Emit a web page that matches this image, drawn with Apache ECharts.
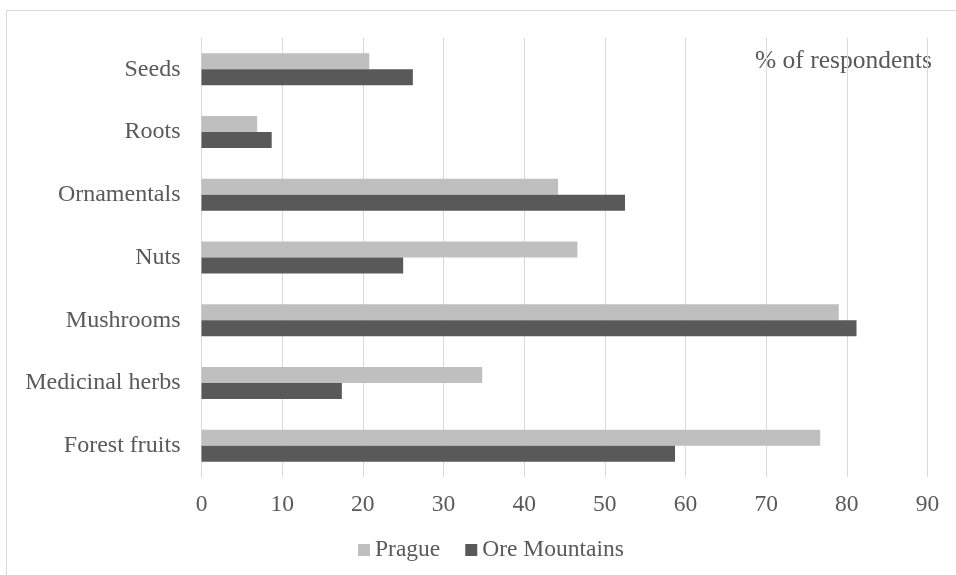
<!DOCTYPE html>
<html>
<head>
<meta charset="utf-8">
<style>
  html, body { margin: 0; padding: 0; background: #ffffff; }
  #chart { width: 956px; height: 575px; }
</style>
<script src="https://cdn.jsdelivr.net/npm/echarts@6/dist/echarts.min.js"></script>
</head>
<body>
<div id="chart"></div>
<script>
// Categories listed from the bottom of the chart upwards
const categories = ['Forest fruits', 'Medicinal herbs', 'Mushrooms', 'Nuts', 'Ornamentals', 'Roots', 'Seeds'];
// Share of respondents collecting each product (%)
const prague = [76.7, 34.8, 79.0, 46.6, 44.2, 6.9, 20.8];
const oreMountains = [58.7, 17.4, 81.2, 25.0, 52.5, 8.7, 26.2];
const xTicks = [0, 10, 20, 30, 40, 50, 60, 70, 80, 90];

const textColor = '#595959';
const fontFamily = '"Liberation Serif", "Times New Roman", serif';

const chart = echarts.init(document.getElementById('chart'), null, { renderer: 'canvas' });

chart.setOption({
  backgroundColor: '#ffffff',
  animation: false,
  textStyle: { fontFamily: fontFamily, color: textColor },
  graphic: [
    {
      type: 'rect',
      left: 4, top: 8,
      shape: { x: 0, y: 0, width: 1000, height: 700 },
      style: { fill: 'none', stroke: '#d9d9d9', lineWidth: 1 },
      silent: true
    },
    {
      type: 'text',
      right: 24, top: 48,
      style: {
        text: '% of respondents',
        fill: textColor,
        font: '25.5px ' + fontFamily
      }
    }
  ],
  legend: {
    left: 358,
    top: 538,
    padding: 0,
    itemWidth: 12,
    itemHeight: 12,
    itemGap: 25,
    icon: 'rect',
    data: ['Prague', 'Ore Mountains'],
    textStyle: { fontFamily: fontFamily, fontSize: 23.5, color: textColor }
  },
  grid: {
    left: 201.5,
    right: 28.5,
    top: 38,
    bottom: 98,
    containLabel: false
  },
  xAxis: {
    type: 'value',
    min: xTicks[0],
    max: xTicks[xTicks.length - 1],
    interval: 10,
    axisLine: { show: false },
    axisTick: { show: false },
    splitLine: { show: true, lineStyle: { color: '#d9d9d9', width: 1 } },
    axisLabel: {
      margin: 16,
      fontSize: 23.5,
      color: textColor,
      fontFamily: fontFamily
    }
  },
  yAxis: {
    type: 'category',
    data: categories,
    axisLine: { show: true, lineStyle: { color: '#d9d9d9', width: 1 } },
    axisTick: { show: false },
    splitLine: { show: false },
    axisLabel: {
      margin: 21,
      fontSize: 24,
      color: textColor,
      fontFamily: fontFamily
    }
  },
  series: [
    {
      name: 'Prague',
      type: 'bar',
      data: prague,
      barGap: '0%',
      barCategoryGap: '49%',
      itemStyle: { color: '#bfbfbf' }
    },
    {
      name: 'Ore Mountains',
      type: 'bar',
      data: oreMountains,
      barGap: '0%',
      barCategoryGap: '49%',
      itemStyle: { color: '#595959' }
    }
  ]
});
</script>
</body>
</html>
